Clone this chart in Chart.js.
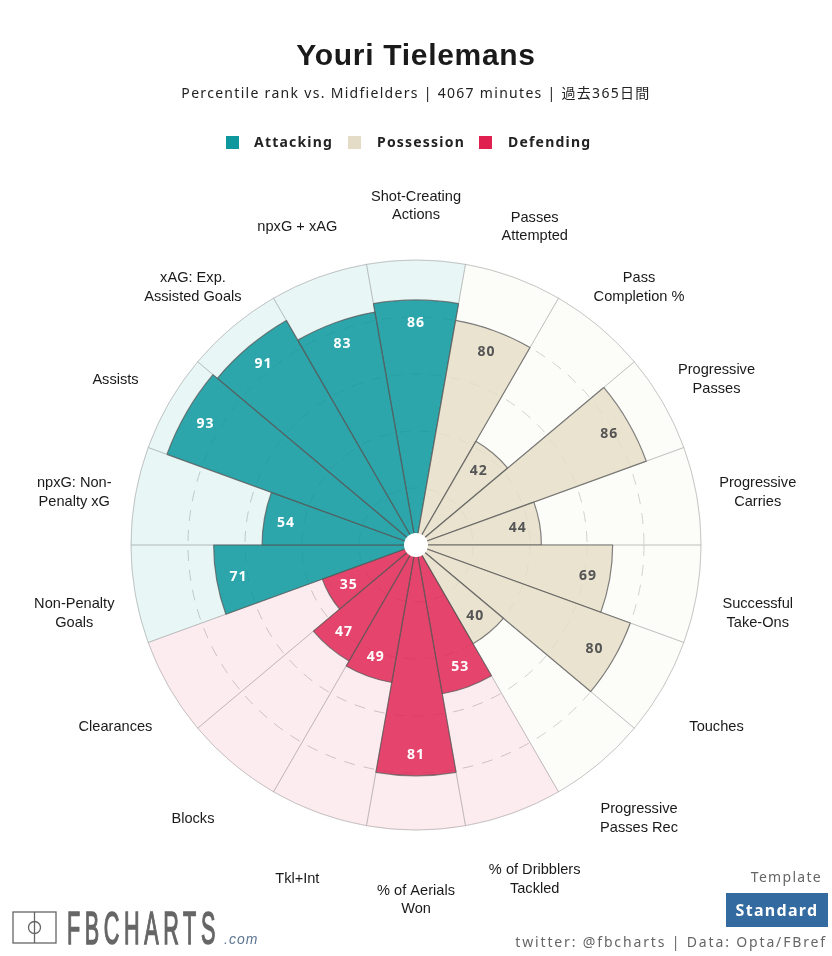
<!DOCTYPE html>
<html>
<head>
<meta charset="utf-8">
<title>Youri Tielemans</title>
<script src="https://cdn.jsdelivr.net/npm/chart.js@4"></script>
<style>
    html, body { margin: 0; padding: 0; background: #fff; }
    #page { position: relative; width: 832px; height: 956px; overflow: hidden; font-family: "Noto Sans", "Noto Sans CJK JP", sans-serif; }
    #myChart { position: absolute; left: 0; top: 0; }
    .txt { position: absolute; white-space: nowrap; }
    #title { left: 0; width: 832px; top: 37px; text-align: center; font: bold 30px/36px "Liberation Sans", sans-serif; letter-spacing: 0.7px; color: #1a1a1a; }
    #subtitle { left: 0; width: 832px; top: 83px; text-align: center; font-size: 14px; line-height: 20px; letter-spacing: 1.3px; color: #222; }
    .swatch { position: absolute; top: 136px; width: 13px; height: 13px; }
    .legend-text { top: 133px; font-size: 14px; line-height: 18px; font-weight: bold; letter-spacing: 1.2px; color: #222; }
    #template { right: 10px; top: 867px; font-size: 14px; line-height: 20px; letter-spacing: 1.3px; color: #666; }
    #standard { left: 726px; top: 893px; width: 102px; height: 34px; background: #336a9f; color: #fff; text-align: center; font-size: 16px; font-weight: bold; line-height: 34px; letter-spacing: 1.3px; }
    #credit { right: 5px; top: 932px; font-size: 14px; line-height: 20px; letter-spacing: 1.85px; color: #666; }
    #logo { left: 67px; top: 905px; font: 47px/46px "Liberation Sans", sans-serif; -webkit-text-stroke: 1.5px #666; color: #666; letter-spacing: 10px; transform: scaleX(0.46); transform-origin: left top; }
    #logocom { left: 224px; top: 930px; font: italic 14px/18px "Liberation Sans", sans-serif; letter-spacing: 1px; color: #5d7592; }
</style>
</head>
<body>
<div id="page">
    <canvas id="myChart" width="832" height="956"></canvas>
    <div class="txt" id="title">Youri Tielemans</div>
    <div class="txt" id="subtitle">Percentile rank vs. Midfielders | 4067 minutes | 過去365日間</div>
    <div class="swatch" style="left:226px; background:#0e989e;"></div>
    <div class="txt legend-text" style="left:254px;">Attacking</div>
    <div class="swatch" style="left:348px; background:#e5dcc8;"></div>
    <div class="txt legend-text" style="left:377px;">Possession</div>
    <div class="swatch" style="left:479px; background:#e0214f;"></div>
    <div class="txt legend-text" style="left:508px;">Defending</div>
    <svg style="position:absolute; left:12px; top:911px;" width="46" height="33">
        <rect x="1" y="1" width="43" height="31" fill="none" stroke="#666" stroke-width="1.3"/>
        <line x1="22.5" y1="1" x2="22.5" y2="32" stroke="#666" stroke-width="1.3"/>
        <circle cx="22.5" cy="16.5" r="6" fill="none" stroke="#666" stroke-width="1.3"/>
    </svg>
    <div class="txt" id="logo">FBCHARTS</div>
    <div class="txt" id="logocom">.com</div>
    <div class="txt" id="template">Template</div>
    <div class="txt" id="standard">Standard</div>
    <div class="txt" id="credit">twitter: @fbcharts | Data: Opta/FBref</div>
</div>
<script>
const categories = [
    ['Shot-Creating', 'Actions'], ['Passes', 'Attempted'], ['Pass', 'Completion %'],
    ['Progressive', 'Passes'], ['Progressive', 'Carries'], ['Successful', 'Take-Ons'],
    ['Touches'], ['Progressive', 'Passes Rec'], ['% of Dribblers', 'Tackled'],
    ['% of Aerials', 'Won'], ['Tkl+Int'], ['Blocks'],
    ['Clearances'], ['Non-Penalty', 'Goals'], ['npxG: Non-', 'Penalty xG'],
    ['Assists'], ['xAG: Exp.', 'Assisted Goals'], ['npxG + xAG']
];
const percentiles = [86, 80, 42, 86, 44, 69, 80, 40, 53, 81, 49, 47, 35, 71, 54, 93, 91, 83];
const fullValues = [100, 100, 100, 100, 100, 100, 100, 100, 100, 100, 100, 100, 100, 100, 100, 100, 100, 100];
const groups = ['a', 'p', 'p', 'p', 'p', 'p', 'p', 'p', 'd', 'd', 'd', 'd', 'd', 'a', 'a', 'a', 'a', 'a'];
const tickSteps = 20;

const fillColors = { a: 'rgba(14,152,158,0.86)', p: 'rgba(229,222,200,0.85)', d: 'rgba(224,33,79,0.82)' };
const backColors = { a: 'rgba(14,152,158,0.09)', p: 'rgba(229,222,200,0.1)', d: 'rgba(224,33,79,0.09)' };
const valueColors = { a: '#fff', p: '#555', d: '#fff' };

const sliceOffset = 10 * Math.PI / 180;

const pizzaLabels = {
    id: 'pizzaLabels',
    afterDatasetsDraw(chart) {
        const ctx = chart.ctx;
        const r = chart.scales.r;
        ctx.save();
        // hole in the middle
        ctx.beginPath();
        ctx.arc(r.xCenter, r.yCenter, 12, 0, Math.PI * 2);
        ctx.fillStyle = '#fff';
        ctx.fill();
        ctx.textAlign = 'center';
        ctx.textBaseline = 'middle';
        for (let i = 0; i < categories.length; i++) {
            // value inside the slice
            let dist = r.getDistanceFromCenterForValue(percentiles[i]) - 22;
            let p = r.getPointPosition(i, dist, sliceOffset);
            ctx.font = 'bold 14px "Noto Sans", sans-serif';
            ctx.letterSpacing = '1px';
            ctx.fillStyle = valueColors[groups[i]];
            ctx.fillText(percentiles[i], p.x, p.y + 1);

            // category name outside the ring
            let q = r.getPointPosition(i, 347, sliceOffset);
            let lines = categories[i];
            ctx.font = '14.6px "Liberation Sans", sans-serif';
            ctx.letterSpacing = '0px';
            ctx.fillStyle = '#1a1a1a';
            for (let l = 0; l < lines.length; l++) {
                ctx.fillText(lines[l], q.x, q.y + 8 + (l - (lines.length - 1) / 2) * 18.8);
            }
        }
        ctx.restore();
    }
};

new Chart(document.getElementById('myChart').getContext('2d'), {
    type: 'polarArea',
    data: {
        labels: categories,
        datasets: [{
            data: percentiles,
            backgroundColor: groups.map(g => fillColors[g]),
            borderColor: 'rgba(90,90,90,0.75)',
            borderWidth: 1.2
        }, {
            data: fullValues,
            backgroundColor: groups.map(g => backColors[g]),
            borderColor: 'rgba(150,150,150,0.35)',
            borderWidth: 1
        }]
    },
    options: {
        responsive: false,
        animation: false,
        layout: { padding: { left: 131, right: 131, top: 260, bottom: 126 } },
        plugins: { legend: { display: false }, tooltip: { enabled: false } },
        scales: {
            r: {
                min: 0,
                max: 100,
                startAngle: -10,
                ticks: { display: false, stepSize: tickSteps },
                grid: { circular: true, color: ctx => ctx.tick.value === 100 ? '#e2e2e2' : '#cfcfcf', lineWidth: 1 },
                border: { dash: ctx => ctx.tick && ctx.tick.value === 100 ? [] : [11, 9] }
            }
        }
    },
    plugins: [pizzaLabels]
});
</script>
</body>
</html>
